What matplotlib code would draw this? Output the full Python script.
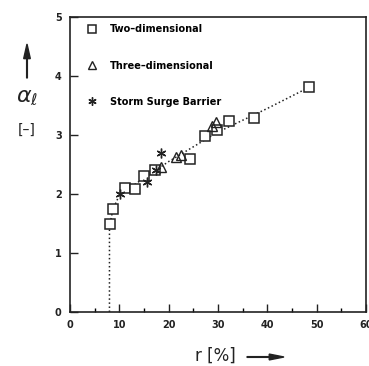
import numpy as np
import matplotlib
matplotlib.use("Agg")
import matplotlib.pyplot as plt

# data
r_2d = [8.1, 8.7, 11.2, 13.2, 15.1, 17.3, 24.3, 27.4, 29.8, 32.3, 37.3, 48.5]
a_2d = [1.49, 1.74, 2.10, 2.08, 2.30, 2.40, 2.59, 2.99, 3.08, 3.23, 3.28, 3.81]
r_3d = [18.5, 21.4, 22.4, 28.7, 29.6]
a_3d = [2.45, 2.62, 2.66, 3.15, 3.22]
r_ssb = [10.2, 15.6, 17.5, 18.4]
a_ssb = [2.00, 2.20, 2.40, 2.70]
# fitted dotted curve
r_fit = [8.0, 8.0, 8.1, 8.7, 10.0, 15.0, 20.0, 25.0, 30.0, 35.0, 40.0, 48.5]
a_fit = [0.0, 1.49, 1.49, 1.74, 1.98, 2.27, 2.55, 2.80, 3.05, 3.25, 3.45, 3.81]
xticks = [0, 10, 20, 30, 40, 50, 60]
yticks = [0, 1, 2, 3, 4, 5]

ink = "#222222"
fig = plt.figure(figsize=(3.69, 3.66), dpi=100)
ax = fig.add_axes([70/369, 1-312/366, 296/369, 295/366])

ax.plot(r_fit, a_fit, ls=":", color=ink, lw=1.1, zorder=1)
ax.plot(r_2d, a_2d, "s", mfc="white", mec=ink, ms=7, mew=1.1, ls="none", label="Two\u2013dimensional")
ax.plot(r_3d, a_3d, "^", mfc="none", mec=ink, ms=7.5, mew=1.0, ls="none", label="Three\u2013dimensional")
ax.plot(r_ssb, a_ssb, marker=(6, 2, 0), color=ink, ms=7, mew=1.0, ls="none", label="Storm Surge Barrier")

ax.set_xlim(0, 60)
ax.set_ylim(0, 5)
ax.set_xticks(xticks)
ax.set_yticks(yticks)
ax.set_xticks(np.arange(5, 60, 10), minor=True)
ax.tick_params(direction="in", length=6, width=1.0, labelsize=7, colors=ink, pad=6)
ax.tick_params(which="minor", direction="in", length=3, width=1.0)
for lab in ax.get_xticklabels() + ax.get_yticklabels():
    lab.set_fontweight("bold")
for s in ax.spines.values():
    s.set_linewidth(1.2)
    s.set_color(ink)

leg = ax.legend(loc="upper left", bbox_to_anchor=(0.058, 0.975), frameon=False,
                labelspacing=2.7, handletextpad=1.35, borderaxespad=0, borderpad=0,
                handlelength=1.0, markerscale=0.85,
                prop={"weight": "bold", "size": 7})

# y label: arrow, symbol, unit
fig.patches.append(matplotlib.patches.FancyArrow(27/369, 1-78/366, 0, 34/366, width=0.002,
                   head_width=0.018, head_length=0.04, length_includes_head=True,
                   color=ink, transform=fig.transFigure))
fig.text(27/369, 1-97/366, r"$\alpha_\ell$", fontsize=16, ha="center", va="center", color=ink)
fig.text(27/369, 1-130/366, "[\u2013]", fontsize=10, ha="center", va="center", color=ink)
# x label with arrow
fig.text(236/369, 1-356/366, "r [%]", fontsize=12, ha="right", va="center", color=ink)
fig.patches.append(matplotlib.patches.FancyArrow(247/369, 1-357/366, 37/369, 0, width=0.002,
                   head_width=0.016, head_length=0.04, length_includes_head=True,
                   color=ink, transform=fig.transFigure))

fig.savefig("out.png", dpi=100)
